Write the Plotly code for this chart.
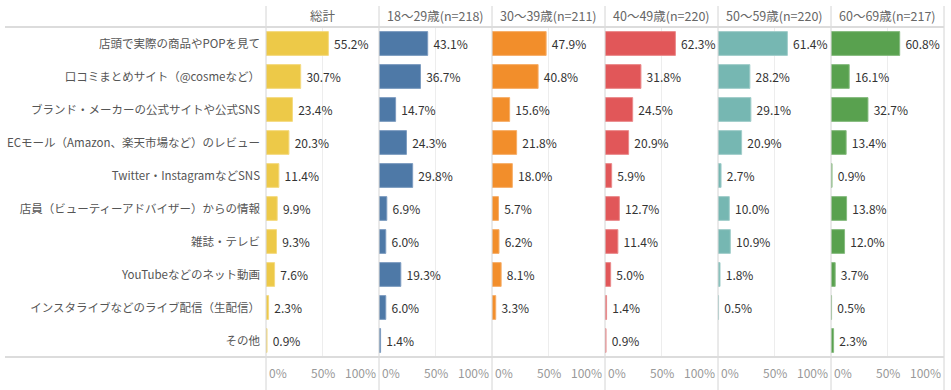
import plotly.graph_objects as go

categories = [
    "店頭で実際の商品やPOPを見て",
    "口コミまとめサイト（@cosmeなど）",
    "ブランド・メーカーの公式サイトや公式SNS",
    "ECモール（Amazon、楽天市場など）のレビュー",
    "Twitter・InstagramなどSNS",
    "店員（ビューティーアドバイザー）からの情報",
    "雑誌・テレビ",
    "YouTubeなどのネット動画",
    "インスタライブなどのライブ配信（生配信）",
    "その他",
]

groups = ["総計", "18～29歳(n=218)", "30～39歳(n=211)", "40～49歳(n=220)", "50～59歳(n=220)", "60～69歳(n=217)"]

total = [55.2, 30.7, 23.4, 20.3, 11.4, 9.9, 9.3, 7.6, 2.3, 0.9]
age_18_29 = [43.1, 36.7, 14.7, 24.3, 29.8, 6.9, 6.0, 19.3, 6.0, 1.4]
age_30_39 = [47.9, 40.8, 15.6, 21.8, 18.0, 5.7, 6.2, 8.1, 3.3, None]
age_40_49 = [62.3, 31.8, 24.5, 20.9, 5.9, 12.7, 11.4, 5.0, 1.4, 0.9]
age_50_59 = [61.4, 28.2, 29.1, 20.9, 2.7, 10.0, 10.9, 1.8, 0.5, None]
age_60_69 = [60.8, 16.1, 32.7, 13.4, 0.9, 13.8, 12.0, 3.7, 0.5, 2.3]

series = [total, age_18_29, age_30_39, age_40_49, age_50_59, age_60_69]
colors = ["#EDC948", "#4E79A7", "#F28E2B", "#E15759", "#76B7B2", "#59A14F"]
borders = ["#F4DA80", "#7D9CC0", "#F6AE68", "#EA8A8B", "#A0CDCA", "#86BB7F"]

tick_vals = [0, 50, 100]
tick_text = ["0%", "50%", "100%"]

W, H = 951, 390
bounds = [266, 379, 492, 605, 718, 831, 944]
top_px, bot_px = 27, 357

FONT = "Noto Sans CJK JP"

fig = go.Figure()
layout = dict(
    width=W, height=H,
    margin=dict(l=0, r=0, t=0, b=0),
    paper_bgcolor="white", plot_bgcolor="white",
    showlegend=False,
    font=dict(family=FONT, size=12, color="#555"),
    bargap=0.28,
)

shapes = []
annotations = []
for i, (vals, col, bcol, name) in enumerate(zip(series, colors, borders, groups)):
    xa = "x" if i == 0 else f"x{i+1}"
    fig.add_trace(go.Bar(
        x=vals, y=categories, orientation="h",
        xaxis=xa, yaxis="y",
        marker=dict(color=col, line=dict(color=bcol, width=1)),
        texttemplate=" %{x:.1f}%", textposition="outside",
        textfont=dict(family=FONT, size=12, color="#333"),
        cliponaxis=False, hoverinfo="skip",
    ))
    key = "xaxis" if i == 0 else f"xaxis{i+1}"
    layout[key] = dict(
        domain=[bounds[i] / W, bounds[i + 1] / W],
        range=[0, 100], anchor="y",
        tickvals=tick_vals, showticklabels=False,
        showgrid=True, gridcolor="#EDEDED", gridwidth=1,
        zeroline=False, showline=False, fixedrange=True,
    )
    # header
    annotations.append(dict(
        x=0.5 * (bounds[i] + bounds[i + 1]) / W, y=1 - 16 / H,
        xref="paper", yref="paper", text=name, showarrow=False,
        font=dict(family=FONT, size=12.5, color="#666"),
        xanchor="center", yanchor="middle",
    ))
    # tick labels
    for tv, tt, anc, dx in zip(tick_vals, tick_text, ["left", "center", "right"], [1, 0, -1]):
        annotations.append(dict(
            x=tv, y=1 - 372 / H, xref=xa, yref="paper", text=tt,
            showarrow=False, xanchor=anc, yanchor="middle", xshift=dx,
            font=dict(family=FONT, size=12, color="#999"),
        ))

layout["yaxis"] = dict(
    domain=[1 - bot_px / H, 1 - top_px / H],
    categoryorder="array", categoryarray=categories,
    autorange="reversed", showgrid=False, zeroline=False,
    ticks="", ticklabelstandoff=5, fixedrange=True,
    tickfont=dict(family=FONT, size=11.5, color="#555"),
)

# separators
for b in bounds:
    shapes.append(dict(type="line", xref="paper", yref="paper",
                       x0=b / W, x1=b / W, y0=0, y1=1 - 6 / H,
                       line=dict(color="#D4D4D4", width=1)))
for ypx in [top_px, bot_px]:
    shapes.append(dict(type="line", xref="paper", yref="paper",
                       x0=5 / W, x1=bounds[-1] / W, y0=1 - ypx / H, y1=1 - ypx / H,
                       line=dict(color="#DCDCDC", width=2)))

layout["shapes"] = shapes
layout["annotations"] = annotations
fig.update_layout(**layout)
fig.write_html("out.html", config={"displayModeBar": False},
               post_script="document.body.style.margin='0';")
